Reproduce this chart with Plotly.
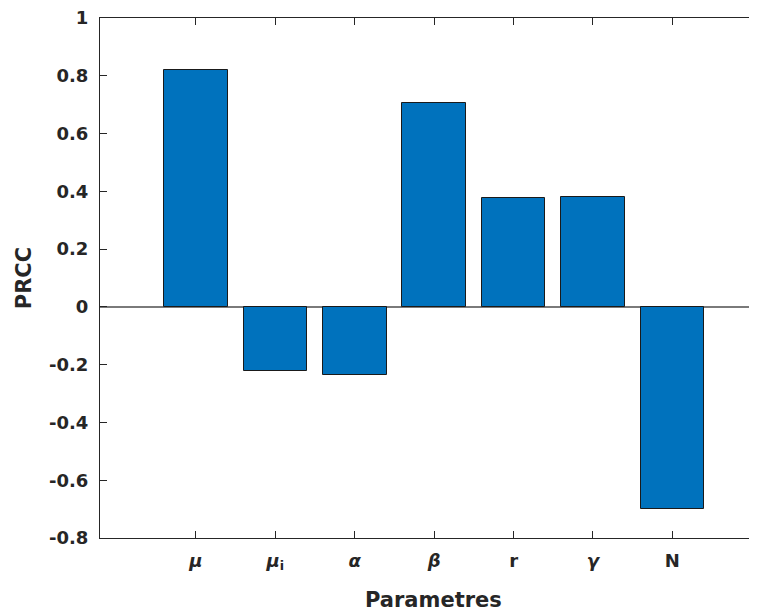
import plotly.graph_objects as go

params = ["<b><i>μ</i></b>", "<b><i>μ</i><sub>i</sub></b>", "<b><i>α</i></b>", "<b><i>β</i></b>",
          "<b>r</b>", "<b><i>γ</i></b>", "<b>N</b>"]
prcc = [0.819, -0.223, -0.236, 0.706, 0.377, 0.382, -0.699]
yticks = [-0.8, -0.6, -0.4, -0.2, 0, 0.2, 0.4, 0.6, 0.8, 1]
ytick_labels = ["-0.8", "-0.6", "-0.4", "-0.2", "0", "0.2", "0.4", "0.6", "0.8", "1"]

font_family = "DejaVu Sans, Liberation Sans, sans-serif"
axis_color = "#262626"

fig = go.Figure()
fig.add_trace(go.Bar(
    x=params, y=prcc, width=0.8,
    marker=dict(color="#0072BD", line=dict(color="#1a1a1a", width=1)),
    showlegend=False,
))

# page body has an 8px margin, so the figure is sized/offset to compensate
fig.update_layout(
    width=749, height=603,
    margin=dict(l=92, r=0, t=10, b=73, autoexpand=False),
    paper_bgcolor="white", plot_bgcolor="white",
    font=dict(family=font_family, color=axis_color),
    bargap=0,
)
fig.update_xaxes(
    type="category", automargin=False,
    range=[-1.209, 7.066],
    showline=True, linecolor=axis_color, linewidth=1,
    mirror="ticks",
    ticks="inside", ticklen=7, tickcolor=axis_color, tickwidth=1,
    tickfont=dict(size=18, family=font_family, color=axis_color),
    ticklabelstandoff=6,
    showgrid=False, zeroline=False,
)
fig.update_yaxes(
    automargin=False,
    range=[-0.8, 1],
    tickvals=yticks, ticktext=ytick_labels,
    showline=True, linecolor=axis_color, linewidth=1,
    ticks="inside", ticklen=7, tickcolor=axis_color, tickwidth=1,
    tickfont=dict(size=18, family=font_family, color=axis_color, weight="bold"),
    ticklabelstandoff=7, ticklabeloverflow="allow",
    showgrid=False,
    zeroline=True, zerolinecolor="#7a7a7a", zerolinewidth=1.5,
    title=dict(text="PRCC", font=dict(size=21, family=font_family, color=axis_color, weight="bold"), standoff=11),
)
fig.add_annotation(
    text="<b>Parametres</b>", xref="paper", yref="paper",
    x=0.508, y=-0.1187, xanchor="center", yanchor="middle", showarrow=False,
    font=dict(size=21, family=font_family, color=axis_color),
)
fig.write_html("out.html")
